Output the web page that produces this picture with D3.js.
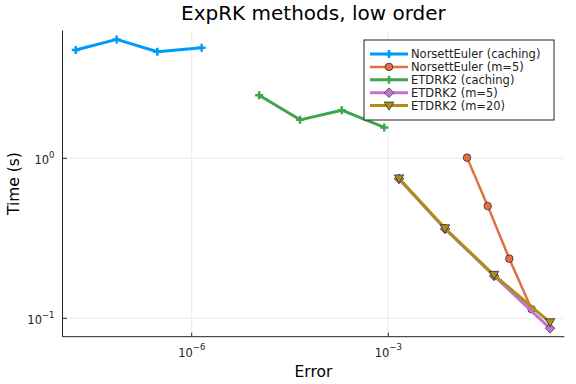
<!DOCTYPE html>
<html lang="en">
<head>
  <meta charset="UTF-8" />
  <title>ExpRK methods, low order</title>
  <script src="https://d3js.org/d3.v7.min.js"></script>
  <style>
    body { margin: 0; padding: 0; background: white; }
    svg { display: block; font-family: "DejaVu Sans", sans-serif; }
  </style>
</head>
<body>
  <svg id="chart" width="576" height="384"></svg>
  <script>
    // values (error, time in seconds)
    const nsCachErr  = [1.70e-8, 7.16e-8, 2.99e-7, 1.42e-6];
    const nsCachTime = [4.75, 5.54, 4.64, 4.91];
    const ns5Err  = [0.0159, 0.0329, 0.0703, 0.154];
    const ns5Time = [1.01, 0.503, 0.236, 0.114];
    const etdCachErr  = [1.07e-5, 4.50e-5, 1.95e-4, 8.69e-4];
    const etdCachTime = [2.48, 1.74, 2.00, 1.56];
    const etd5Err  = [0.00146, 0.00735, 0.0412, 0.294];
    const etd5Time = [0.744, 0.362, 0.184, 0.0866];
    const etd20Err  = [0.00146, 0.00733, 0.0410, 0.294];
    const etd20Time = [0.748, 0.365, 0.1866, 0.0944];

    const xTicks = [1e-6, 1e-3];
    const xTickExp = ["\u22126", "\u22123"];
    const yTicks = [1e-1, 1];
    const yTickExp = ["\u22121", "0"];

    const series = [
      { name: "NorsettEuler (caching)", x: nsCachErr, y: nsCachTime, color: "#009AFA", marker: "cross", lw: 3 },
      { name: "NorsettEuler (m=5)", x: ns5Err, y: ns5Time, color: "#E36F47", marker: "circle", lw: 2.5 },
      { name: "ETDRK2 (caching)", x: etdCachErr, y: etdCachTime, color: "#3EA44E", marker: "cross", lw: 3 },
      { name: "ETDRK2 (m=5)", x: etd5Err, y: etd5Time, color: "#C371D2", marker: "diamond", lw: 3 },
      { name: "ETDRK2 (m=20)", x: etd20Err, y: etd20Time, color: "#AC8E18", marker: "triangle", lw: 3 }
    ];

    const svg = d3.select("#chart");
    const pLeft = 62.5, pRight = 564.3, pTop = 30.5, pBottom = 336.7;

    const x = d3.scaleLog()
      .domain([Math.pow(10, -7.972), Math.pow(10, -0.314)])
      .range([pLeft, pRight]);
    const y = d3.scaleLog()
      .domain([Math.pow(10, -1.115), Math.pow(10, 0.799)])
      .range([pBottom, pTop]);

    // grid
    svg.selectAll(".vgrid").data(xTicks).enter().append("line")
      .attr("x1", d => x(d)).attr("x2", d => x(d))
      .attr("y1", pTop).attr("y2", pBottom)
      .attr("stroke", "#e6e6e6").attr("stroke-width", 0.8);
    svg.selectAll(".hgrid").data(yTicks).enter().append("line")
      .attr("x1", pLeft).attr("x2", pRight)
      .attr("y1", d => y(d)).attr("y2", d => y(d))
      .attr("stroke", "#e6e6e6").attr("stroke-width", 0.8);

    // axes
    svg.append("line").attr("x1", pLeft).attr("x2", pRight)
      .attr("y1", pBottom).attr("y2", pBottom).attr("stroke", "#222").attr("stroke-width", 1);
    svg.append("line").attr("x1", pLeft).attr("x2", pLeft)
      .attr("y1", pTop).attr("y2", pBottom).attr("stroke", "#222").attr("stroke-width", 1);

    svg.selectAll(".xtick").data(xTicks).enter().append("line")
      .attr("x1", d => x(d)).attr("x2", d => x(d))
      .attr("y1", pBottom).attr("y2", pBottom - 4)
      .attr("stroke", "#222");
    svg.selectAll(".ytick").data(yTicks).enter().append("line")
      .attr("x1", pLeft).attr("x2", pLeft + 4.5)
      .attr("y1", d => y(d)).attr("y2", d => y(d))
      .attr("stroke", "#222");

    // tick labels
    const xl = svg.selectAll(".xlab").data(xTicks).enter().append("text")
      .attr("x", d => x(d))
      .attr("y", 356.7)
      .attr("text-anchor", "middle")
      .style("font-size", "11.5px")
      .attr("fill", "#222");
    xl.append("tspan").text("10");
    xl.append("tspan").attr("dy", -6.5).style("font-size", "8.5px").text((d, i) => xTickExp[i]);

    const yl = svg.selectAll(".ylab").data(yTicks).enter().append("text")
      .attr("x", 54.5)
      .attr("y", d => y(d) + 6)
      .attr("text-anchor", "end")
      .style("font-size", "11.5px")
      .attr("fill", "#222");
    yl.append("tspan").text("10");
    yl.append("tspan").attr("dy", -6.5).style("font-size", "8.5px").text((d, i) => yTickExp[i]);

    // title and axis labels
    svg.append("text").attr("x", (pLeft + pRight) / 2).attr("y", 20)
      .attr("text-anchor", "middle").style("font-size", "20px").text("ExpRK methods, low order");
    svg.append("text").attr("x", (pLeft + pRight) / 2).attr("y", 377)
      .attr("text-anchor", "middle").style("font-size", "15.5px").text("Error");
    svg.append("text")
      .attr("transform", `translate(18.5,${(pTop + pBottom) / 2}) rotate(-90)`)
      .attr("text-anchor", "middle").style("font-size", "15.5px").text("Time (s)");

    function drawMarker(g, type, color, cx, cy) {
      if (type === "cross") {
        g.append("path")
          .attr("d", `M${cx - 4},${cy}H${cx + 4}M${cx},${cy - 4}V${cy + 4}`)
          .attr("stroke", color).attr("stroke-width", 2.5).attr("fill", "none");
      } else if (type === "circle") {
        g.append("circle").attr("cx", cx).attr("cy", cy).attr("r", 3.8)
          .attr("fill", color).attr("stroke", "#222").attr("stroke-width", 0.7);
      } else if (type === "diamond") {
        g.append("path")
          .attr("d", `M${cx},${cy - 4.8}L${cx + 4.8},${cy}L${cx},${cy + 4.8}L${cx - 4.8},${cy}Z`)
          .attr("fill", color).attr("stroke", "#222").attr("stroke-width", 0.7);
      } else if (type === "triangle") {
        g.append("path")
          .attr("d", `M${cx - 4.8},${cy - 3.6}L${cx + 4.8},${cy - 3.6}L${cx},${cy + 4.6}Z`)
          .attr("fill", color).attr("stroke", "#222").attr("stroke-width", 0.7);
      }
    }

    const line = d3.line().x(d => x(d[0])).y(d => y(d[1]));

    series.forEach(s => {
      const pts = s.x.map((v, i) => [v, s.y[i]]);
      const g = svg.append("g");
      g.append("path").datum(pts)
        .attr("d", line)
        .attr("fill", "none")
        .attr("stroke", s.color)
        .attr("stroke-width", s.lw)
        .attr("stroke-linejoin", "round");
      pts.forEach(p => drawMarker(g, s.marker, s.color, x(p[0]), y(p[1])));
    });

    // legend
    const lg = svg.append("g");
    lg.append("rect").attr("x", 364).attr("y", 40).attr("width", 190).attr("height", 80)
      .attr("fill", "white").attr("stroke", "#222").attr("stroke-width", 1);
    series.forEach((s, i) => {
      const ly = 54 + i * 12.9;
      lg.append("line").attr("x1", 370).attr("x2", 408).attr("y1", ly).attr("y2", ly)
        .attr("stroke", s.color).attr("stroke-width", s.lw);
      drawMarker(lg, s.marker, s.color, 389, ly);
      lg.append("text").attr("x", 411).attr("y", ly + 4)
        .style("font-size", "11.5px").attr("fill", "#222").text(s.name);
    });
  </script>
</body>
</html>
